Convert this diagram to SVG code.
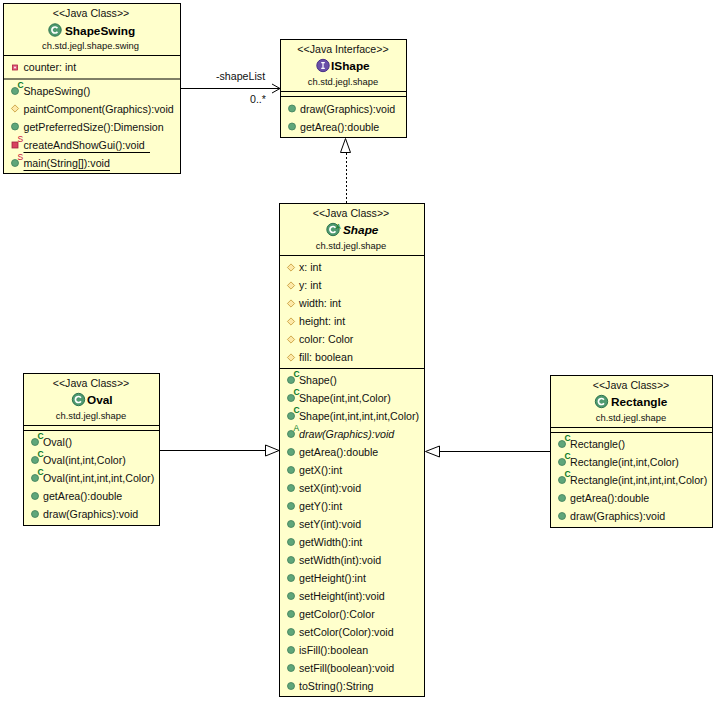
<svg xmlns="http://www.w3.org/2000/svg" xmlns:xlink="http://www.w3.org/1999/xlink" width="716" height="701" viewBox="0 0 716 701">
<style>
text{font-family:"Liberation Sans",Arial,sans-serif;font-size:10.65px;fill:#111}
.st{font-size:10.6px;text-anchor:middle}
.pk{font-size:9.4px;text-anchor:middle}
.nm{font-size:11.8px;font-weight:bold;fill:#000}
.it{font-style:italic}
.ic{font-size:8.5px;font-weight:bold}
.box{fill:#ffffcc;stroke:#000;stroke-width:1}
.sep{stroke:#000;stroke-width:1;fill:none}
.conn{stroke:#000;stroke-width:1;fill:none}
</style>
<defs>
<g id="pub"><circle r="3.5" fill="#5fa67a" stroke="#3f7f5a" stroke-width=".8"/></g>
<g id="ctor"><circle cy="1" r="3.5" fill="#5fa67a" stroke="#3f7f5a" stroke-width=".8"/><text class="ic" x="2.5" y="-1.6" style="fill:#0a7a28">C</text></g>
<g id="abs"><circle cy="1" r="3.5" fill="#5fa67a" stroke="#3f7f5a" stroke-width=".8"/><text class="ic" x="2.5" y="-1.6" style="fill:#0a7a28;font-weight:normal">A</text></g>
<g id="stat"><circle cy="1" r="3.5" fill="#5fa67a" stroke="#3f7f5a" stroke-width=".8"/><text class="ic" x="2.5" y="-1.6" style="fill:#c8103c;font-weight:normal">S</text></g>
<g id="prot"><path d="M0-3.6L3.6 0 0 3.6-3.6 0Z" fill="#fde9a8" stroke="#c9a040" stroke-width=".9"/></g>
<g id="priv"><rect x="-2.5" y="-2.5" width="5" height="5" fill="#e06080" stroke="#b02040" stroke-width=".8"/><rect x="-.8" y="-.8" width="1.6" height="1.6" fill="#fff"/></g>
<g id="cls"><circle r="6.2" fill="#4f9a70" stroke="#2f7550" stroke-width="1"/><path d="M2.4-1.7A3 3 0 1 0 2.4 1.7" fill="none" stroke="#fff" stroke-width="1.7"/></g>
<g id="ifc"><circle r="6.2" fill="#6a50a8" stroke="#483088" stroke-width="1"/><path d="M-1.8-2.8H1.8M0-2.8V2.8M-1.8 2.8H1.8" fill="none" stroke="#fff" stroke-width="1.2"/></g>
</defs>
<g id="connectors">
<path class="conn" d="M181 88.5H280"/>
<path class="conn" d="M272 84L280 88.5 272 93"/>
<path class="conn" stroke-dasharray="2 2" d="M346.5 203V153"/>
<path class="conn" style="fill:#fff" d="M345.5 138.5L340.5 152.5H350.5Z"/>
<path class="conn" d="M160 450.5H265"/>
<path class="conn" style="fill:#fff" d="M279 450.5L265.5 445V456Z"/>
<path class="conn" d="M550 451.5H440"/>
<path class="conn" style="fill:#fff" d="M425.5 451.5L439.5 446V457Z"/>
<text x="216" y="80">-shapeList</text>
<text x="250" y="103">0..*</text>
</g>
<g id="ShapeSwing">
<rect class="box" x="3.5" y="3.5" width="177" height="170"/>
<path class="sep" d="M3.5 55.5H180.5M3.5 79H180.5"/>
<text class="st" x="91" y="17">&lt;&lt;Java Class&gt;&gt;</text>
<use xlink:href="#cls" href="#cls" x="55" y="30"/>
<text class="nm" x="65" y="34.5">ShapeSwing</text>
<text class="pk" x="90.5" y="49">ch.std.jegl.shape.swing</text>
<use xlink:href="#priv" href="#priv" x="15" y="67.5"/>
<text x="23.5" y="71">counter: int</text>
<use xlink:href="#ctor" href="#ctor" x="15" y="90"/><text x="23.5" y="94.5">ShapeSwing()</text>
<use xlink:href="#prot" href="#prot" x="15" y="108.5"/><text x="23.5" y="112.5">paintComponent(Graphics):void</text>
<use xlink:href="#pub" href="#pub" x="15" y="126.5"/><text x="23.5" y="130.5">getPreferredSize():Dimension</text>
<rect x="12" y="142" width="6" height="6" fill="#d84060" stroke="#a02040" stroke-width=".8"/><text class="ic" x="17.5" y="142" style="fill:#c8103c;font-weight:normal">S</text><text x="23.5" y="148.5">createAndShowGui():void</text>
<path class="sep" d="M23.5 152.5H150"/>
<use xlink:href="#stat" href="#stat" x="15" y="162"/><text x="23.5" y="166.5">main(String[]):void</text>
<path class="sep" d="M23.5 170.5H110"/>
</g>
<g id="IShape">
<rect class="box" x="280.5" y="39.5" width="126" height="98"/>
<path class="sep" d="M280.5 91.5H406.5M280.5 96.5H406.5"/>
<text class="st" x="343" y="52.5">&lt;&lt;Java Interface&gt;&gt;</text>
<use xlink:href="#ifc" href="#ifc" x="323" y="65.5"/>
<text class="nm" x="331" y="70">IShape</text>
<text class="pk" x="343" y="85">ch.std.jegl.shape</text>
<use xlink:href="#pub" href="#pub" x="292" y="108.5"/><text x="300" y="112.5">draw(Graphics):void</text>
<use xlink:href="#pub" href="#pub" x="292" y="126.5"/><text x="300" y="130.5">getArea():double</text>
</g>
<g id="Shape">
<rect class="box" x="279.5" y="203.5" width="145" height="493"/>
<path class="sep" d="M279.5 255.5H424.5M279.5 368.5H424.5"/>
<text class="st" x="351" y="217">&lt;&lt;Java Class&gt;&gt;</text>
<use xlink:href="#cls" href="#cls" x="333" y="229.5"/>
<text class="ic" x="336" y="229" style="fill:#0a7a28;font-weight:normal;font-size:7px">A</text>
<text class="nm it" x="343" y="234">Shape</text>
<text class="pk" x="351" y="249">ch.std.jegl.shape</text>
<use xlink:href="#prot" href="#prot" x="291" y="267.5"/><text x="299" y="271">x: int</text>
<use xlink:href="#prot" href="#prot" x="291" y="285.5"/><text x="299" y="289">y: int</text>
<use xlink:href="#prot" href="#prot" x="291" y="303.5"/><text x="299" y="307">width: int</text>
<use xlink:href="#prot" href="#prot" x="291" y="321.5"/><text x="299" y="325">height: int</text>
<use xlink:href="#prot" href="#prot" x="291" y="339.5"/><text x="299" y="343">color: Color</text>
<use xlink:href="#prot" href="#prot" x="291" y="357.5"/><text x="299" y="361">fill: boolean</text>
<use xlink:href="#ctor" href="#ctor" x="291" y="379"/><text x="299" y="384">Shape()</text>
<use xlink:href="#ctor" href="#ctor" x="291" y="397"/><text x="299" y="402">Shape(int,int,Color)</text>
<use xlink:href="#ctor" href="#ctor" x="291" y="415"/><text x="299" y="420">Shape(int,int,int,int,Color)</text>
<use xlink:href="#abs" href="#abs" x="291" y="433"/><text class="it" x="299" y="438">draw(Graphics):void</text>
<use xlink:href="#pub" href="#pub" x="291" y="452"/><text x="299" y="456">getArea():double</text>
<use xlink:href="#pub" href="#pub" x="291" y="470"/><text x="299" y="474">getX():int</text>
<use xlink:href="#pub" href="#pub" x="291" y="488"/><text x="299" y="492">setX(int):void</text>
<use xlink:href="#pub" href="#pub" x="291" y="506"/><text x="299" y="510">getY():int</text>
<use xlink:href="#pub" href="#pub" x="291" y="524"/><text x="299" y="528">setY(int):void</text>
<use xlink:href="#pub" href="#pub" x="291" y="542"/><text x="299" y="546">getWidth():int</text>
<use xlink:href="#pub" href="#pub" x="291" y="560"/><text x="299" y="564">setWidth(int):void</text>
<use xlink:href="#pub" href="#pub" x="291" y="578"/><text x="299" y="582">getHeight():int</text>
<use xlink:href="#pub" href="#pub" x="291" y="596"/><text x="299" y="600">setHeight(int):void</text>
<use xlink:href="#pub" href="#pub" x="291" y="614"/><text x="299" y="618">getColor():Color</text>
<use xlink:href="#pub" href="#pub" x="291" y="632"/><text x="299" y="636">setColor(Color):void</text>
<use xlink:href="#pub" href="#pub" x="291" y="650"/><text x="299" y="654">isFill():boolean</text>
<use xlink:href="#pub" href="#pub" x="291" y="668"/><text x="299" y="672">setFill(boolean):void</text>
<use xlink:href="#pub" href="#pub" x="291" y="686"/><text x="299" y="690">toString():String</text>
</g>
<g id="Oval">
<rect class="box" x="23.5" y="373.5" width="136" height="152"/>
<path class="sep" d="M23.5 425.5H159.5M23.5 430.5H159.5"/>
<text class="st" x="91" y="387">&lt;&lt;Java Class&gt;&gt;</text>
<use xlink:href="#cls" href="#cls" x="78.5" y="399.5"/>
<text class="nm" x="87" y="404">Oval</text>
<text class="pk" x="91" y="419">ch.std.jegl.shape</text>
<use xlink:href="#ctor" href="#ctor" x="35" y="441"/><text x="43" y="446">Oval()</text>
<use xlink:href="#ctor" href="#ctor" x="35" y="459"/><text x="43" y="464">Oval(int,int,Color)</text>
<use xlink:href="#ctor" href="#ctor" x="35" y="477"/><text x="43" y="482">Oval(int,int,int,int,Color)</text>
<use xlink:href="#pub" href="#pub" x="35" y="496"/><text x="43" y="500">getArea():double</text>
<use xlink:href="#pub" href="#pub" x="35" y="514"/><text x="43" y="518">draw(Graphics):void</text>
</g>
<g id="Rectangle">
<rect class="box" x="550.5" y="375.5" width="162" height="152"/>
<path class="sep" d="M550.5 427.5H712.5M550.5 432.5H712.5"/>
<text class="st" x="631" y="389">&lt;&lt;Java Class&gt;&gt;</text>
<use xlink:href="#cls" href="#cls" x="601.5" y="401.5"/>
<text class="nm" x="611" y="406">Rectangle</text>
<text class="pk" x="631" y="421">ch.std.jegl.shape</text>
<use xlink:href="#ctor" href="#ctor" x="562" y="443"/><text x="570" y="448">Rectangle()</text>
<use xlink:href="#ctor" href="#ctor" x="562" y="461"/><text x="570" y="466">Rectangle(int,int,Color)</text>
<use xlink:href="#ctor" href="#ctor" x="562" y="479"/><text x="570" y="484">Rectangle(int,int,int,int,Color)</text>
<use xlink:href="#pub" href="#pub" x="562" y="498"/><text x="570" y="502">getArea():double</text>
<use xlink:href="#pub" href="#pub" x="562" y="516"/><text x="570" y="520">draw(Graphics):void</text>
</g>
</svg>
